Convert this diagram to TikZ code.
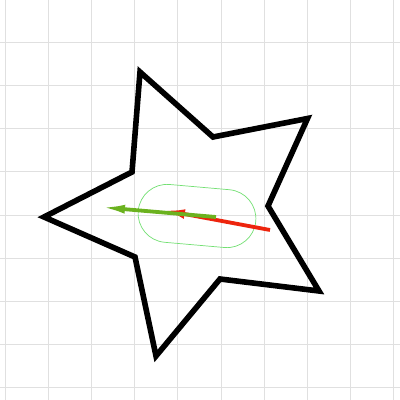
\documentclass[tikz,border=0pt]{standalone}
\usepackage{tikz}
\usetikzlibrary{arrows.meta,shapes.misc}
\definecolor{gridgray}{rgb}{0.88,0.88,0.88}
\definecolor{shapegreen}{rgb}{0.45,0.88,0.45}
\definecolor{arrowgreen}{rgb}{0.42,0.70,0.12}
\definecolor{arrowred}{rgb}{0.93,0.14,0.05}

\begin{document}
\begin{tikzpicture}[x=0.025cm,y=-0.025cm,
   gridline/.style={gridgray,line width=0.6pt},
   starline/.style={draw=black,line width=0.14cm},
   vec/.style={line width=0.095cm}]
  \useasboundingbox[fill=white] (0,0) rectangle (400,400);
  % background grid
  \foreach \k in {0,...,9}
    \draw[gridline] (5+43.2*\k,0) -- (5+43.2*\k,400);
  \foreach \k in {1,...,9}
    \draw[gridline] (0,-1+43.2*\k) -- (400,-1+43.2*\k);
  % star outline
  \draw[starline] (140,72) -- (213,137) -- (307.5,118.5) -- (268,206)
     -- (319,291) -- (220,279) -- (156,356) -- (135,257)
     -- (44,217) -- (132,172) -- cycle;
  % capsule
  \node[draw=shapegreen,line width=0.5pt,rounded rectangle,rotate=-5,
        minimum width=2.95cm,minimum height=1.45cm,inner sep=0pt]
        (capsule) at (197,216) {};
  % vectors
  \coordinate (redtail) at (270,230);
  \coordinate (redtip)  at (163,210);
  \coordinate (greentail) at (216,217);
  \coordinate (greentip)  at (99,207);
  \draw[vec,arrowred,-{Latex[length=0.55cm,width=0.24cm]}] (redtail) -- (redtip);
  \draw[vec,arrowgreen,-{Latex[length=0.65cm,width=0.22cm]}] (greentail) -- (greentip);
\end{tikzpicture}
\end{document}
